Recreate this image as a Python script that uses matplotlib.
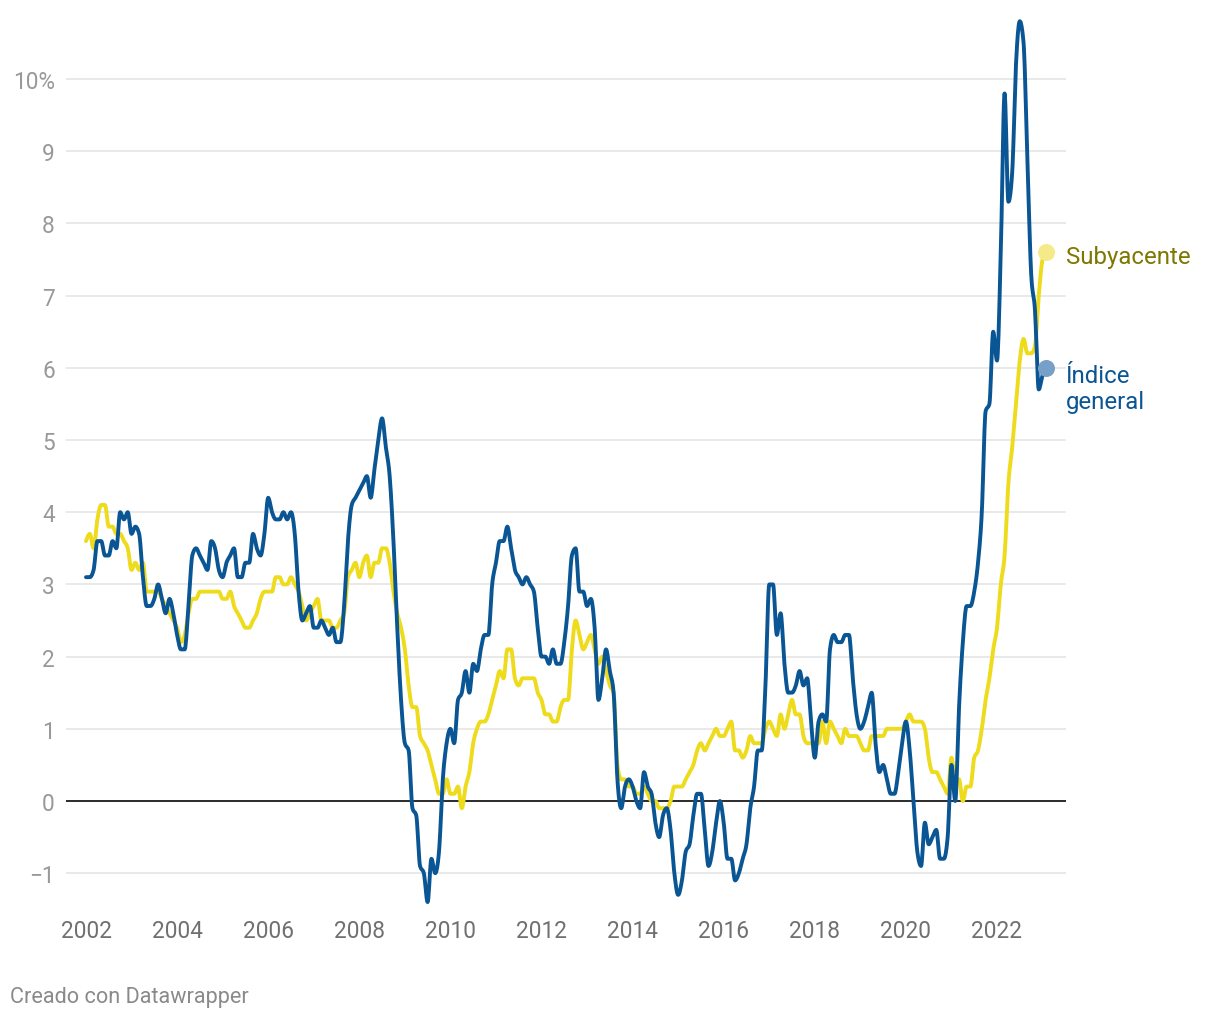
import numpy as np
import matplotlib
matplotlib.use("Agg")
import matplotlib.pyplot as plt

# ---------------- data (monthly, Jan 2002 - Feb 2023, % y/y) ----------------
start_year = 2002
general = [
    3.1, 3.1, 3.2, 3.6, 3.6, 3.4, 3.4, 3.6, 3.5, 4.0, 3.9, 4.0,      # 2002
    3.7, 3.8, 3.7, 3.1, 2.7, 2.7, 2.8, 3.0, 2.8, 2.6, 2.8, 2.6,      # 2003
    2.3, 2.1, 2.1, 2.7, 3.4, 3.5, 3.4, 3.3, 3.2, 3.6, 3.5, 3.2,      # 2004
    3.1, 3.3, 3.4, 3.5, 3.1, 3.1, 3.3, 3.3, 3.7, 3.5, 3.4, 3.7,      # 2005
    4.2, 4.0, 3.9, 3.9, 4.0, 3.9, 4.0, 3.7, 2.9, 2.5, 2.6, 2.7,      # 2006
    2.4, 2.4, 2.5, 2.4, 2.3, 2.4, 2.2, 2.2, 2.7, 3.6, 4.1, 4.2,      # 2007
    4.3, 4.4, 4.5, 4.2, 4.6, 5.0, 5.3, 4.9, 4.5, 3.6, 2.4, 1.4,      # 2008
    0.8, 0.7, -0.1, -0.2, -0.9, -1.0, -1.4, -0.8, -1.0, -0.7, 0.3, 0.8,  # 2009
    1.0, 0.8, 1.4, 1.5, 1.8, 1.5, 1.9, 1.8, 2.1, 2.3, 2.3, 3.0,      # 2010
    3.3, 3.6, 3.6, 3.8, 3.5, 3.2, 3.1, 3.0, 3.1, 3.0, 2.9, 2.4,      # 2011
    2.0, 2.0, 1.9, 2.1, 1.9, 1.9, 2.2, 2.7, 3.4, 3.5, 2.9, 2.9,      # 2012
    2.7, 2.8, 2.4, 1.4, 1.7, 2.1, 1.8, 1.5, 0.3, -0.1, 0.2, 0.3,     # 2013
    0.2, 0.0, -0.1, 0.4, 0.2, 0.1, -0.3, -0.5, -0.2, -0.1, -0.4, -1.0,  # 2014
    -1.3, -1.1, -0.7, -0.6, -0.2, 0.1, 0.1, -0.4, -0.9, -0.7, -0.3, 0.0,  # 2015
    -0.3, -0.8, -0.8, -1.1, -1.0, -0.8, -0.6, -0.1, 0.2, 0.7, 0.7, 1.6,  # 2016
    3.0, 3.0, 2.3, 2.6, 1.9, 1.5, 1.5, 1.6, 1.8, 1.6, 1.7, 1.1,      # 2017
    0.6, 1.1, 1.2, 1.1, 2.1, 2.3, 2.2, 2.2, 2.3, 2.3, 1.7, 1.2,      # 2018
    1.0, 1.1, 1.3, 1.5, 0.8, 0.4, 0.5, 0.3, 0.1, 0.1, 0.4, 0.8,      # 2019
    1.1, 0.7, 0.0, -0.7, -0.9, -0.3, -0.6, -0.5, -0.4, -0.8, -0.8, -0.5,  # 2020
    0.5, 0.0, 1.3, 2.2, 2.7, 2.7, 2.9, 3.3, 4.0, 5.4, 5.5, 6.5,      # 2021
    6.1, 7.6, 9.8, 8.3, 8.7, 10.2, 10.8, 10.5, 8.9, 7.3, 6.8, 5.7,   # 2022
    5.9, 6.0,                                                        # 2023
]
core = [
    3.6, 3.7, 3.5, 3.9, 4.1, 4.1, 3.8, 3.8, 3.7, 3.7, 3.6, 3.5,      # 2002
    3.2, 3.3, 3.2, 3.3, 2.9, 2.9, 2.9, 2.9, 2.8, 2.7, 2.6, 2.5,      # 2003
    2.4, 2.2, 2.3, 2.6, 2.8, 2.8, 2.9, 2.9, 2.9, 2.9, 2.9, 2.9,      # 2004
    2.8, 2.8, 2.9, 2.7, 2.6, 2.5, 2.4, 2.4, 2.5, 2.6, 2.8, 2.9,      # 2005
    2.9, 2.9, 3.1, 3.1, 3.0, 3.0, 3.1, 3.0, 2.9, 2.7, 2.5, 2.6,      # 2006
    2.7, 2.8, 2.5, 2.5, 2.5, 2.4, 2.4, 2.5, 2.6, 3.1, 3.2, 3.3,      # 2007
    3.1, 3.3, 3.4, 3.1, 3.3, 3.3, 3.5, 3.5, 3.3, 2.9, 2.6, 2.4,      # 2008
    2.1, 1.6, 1.3, 1.3, 0.9, 0.8, 0.7, 0.5, 0.3, 0.1, 0.1, 0.3,      # 2009
    0.1, 0.1, 0.2, -0.1, 0.2, 0.4, 0.8, 1.0, 1.1, 1.1, 1.2, 1.4,     # 2010
    1.6, 1.8, 1.7, 2.1, 2.1, 1.7, 1.6, 1.7, 1.7, 1.7, 1.7, 1.5,      # 2011
    1.4, 1.2, 1.2, 1.1, 1.1, 1.3, 1.4, 1.4, 2.1, 2.5, 2.3, 2.1,      # 2012
    2.2, 2.3, 2.1, 1.9, 2.0, 1.8, 1.6, 1.5, 0.5, 0.3, 0.3, 0.2,      # 2013
    0.2, 0.1, 0.1, 0.2, 0.1, 0.0, 0.0, -0.1, -0.1, -0.1, 0.0, 0.2,   # 2014
    0.2, 0.2, 0.3, 0.4, 0.5, 0.7, 0.8, 0.7, 0.8, 0.9, 1.0, 0.9,      # 2015
    0.9, 1.0, 1.1, 0.7, 0.7, 0.6, 0.7, 0.9, 0.8, 0.8, 0.8, 1.0,      # 2016
    1.1, 1.0, 0.9, 1.2, 1.0, 1.2, 1.4, 1.2, 1.2, 0.9, 0.8, 0.8,      # 2017
    0.8, 0.8, 1.1, 0.8, 1.1, 1.0, 0.9, 0.8, 1.0, 0.9, 0.9, 0.9,      # 2018
    0.8, 0.7, 0.7, 0.9, 0.9, 0.9, 0.9, 1.0, 1.0, 1.0, 1.0, 1.0,      # 2019
    1.1, 1.2, 1.1, 1.1, 1.1, 1.0, 0.6, 0.4, 0.4, 0.3, 0.2, 0.1,      # 2020
    0.6, 0.3, 0.3, 0.0, 0.2, 0.2, 0.6, 0.7, 1.0, 1.4, 1.7, 2.1,      # 2021
    2.4, 3.0, 3.4, 4.4, 4.9, 5.5, 6.1, 6.4, 6.2, 6.2, 6.3, 7.0,      # 2022
    7.5, 7.6,                                                        # 2023
]
tick_years = [2002, 2004, 2006, 2008, 2010, 2012, 2014, 2016, 2018, 2020, 2022]
y_ticks = [-1, 0, 1, 2, 3, 4, 5, 6, 7, 8, 9, 10]
y_labels = ["\u22121", "0", "1", "2", "3", "4", "5", "6", "7", "8", "9", "10%"]
label_general = "Índice\ngeneral"
label_core = "Subyacente"
footer = "Creado con Datawrapper"

# ---------------- helpers ----------------
def monotone_curve(x, y, n=10):
    """Monotone cubic (Steffen / d3.curveMonotoneX) sampling."""
    x = np.asarray(x, float)
    y = np.asarray(y, float)
    h = np.diff(x)
    s = np.diff(y) / h
    t = np.zeros_like(y)
    for i in range(1, len(y) - 1):
        s0, s1, h0, h1 = s[i - 1], s[i], h[i - 1], h[i]
        p = (s0 * h1 + s1 * h0) / (h0 + h1)
        t[i] = (np.sign(s0) + np.sign(s1)) * min(abs(s0), abs(s1), 0.5 * abs(p))
    t[0] = (3 * s[0] - t[1]) / 2
    t[-1] = (3 * s[-1] - t[-2]) / 2
    xs, ys = [], []
    u = np.linspace(0, 1, n, endpoint=False)
    for i in range(len(y) - 1):
        hh = h[i]
        h00 = 2 * u**3 - 3 * u**2 + 1
        h10 = u**3 - 2 * u**2 + u
        h01 = -2 * u**3 + 3 * u**2
        h11 = u**3 - u**2
        xs.append(x[i] + u * hh)
        ys.append(h00 * y[i] + h10 * hh * t[i] + h01 * y[i + 1] + h11 * hh * t[i + 1])
    xs.append([x[-1]])
    ys.append([y[-1]])
    return np.concatenate(xs), np.concatenate(ys)

# ---------------- figure ----------------
plt.rcParams["font.family"] = ["Roboto", "DejaVu Sans"]
W, H = 1220, 1020
fig = plt.figure(figsize=(W / 100, H / 100), dpi=100)

px_month = 45.55 / 12.0
x0_px = 86.0
left_px, right_px = 66.0, 1066.0
zero_px, ten_px = 802.0, 80.0
px_unit = (zero_px - ten_px) / 10.0
ymin, ymax = -1.5, 11.0
bottom_px = zero_px - ymin * px_unit
top_px = zero_px - ymax * px_unit

ax = fig.add_axes([left_px / W, 1 - bottom_px / H,
                   (right_px - left_px) / W, (bottom_px - top_px) / H])
ax.set_xlim((left_px - x0_px) / px_month, (right_px - x0_px) / px_month)
ax.set_ylim(ymin, ymax)

for sp in ax.spines.values():
    sp.set_visible(False)

# grid lines
for v in y_ticks:
    if v == 0:
        ax.axhline(0, color="#1a1a1a", lw=1.3, zorder=2)
    else:
        ax.axhline(v, color="#e3e3e3", lw=1.1, zorder=1)

months = np.arange(len(general))
blue = "#0a5594"
yellow = "#eedb1c"

xc, yc = monotone_curve(months, core)
xg, yg = monotone_curve(months, general)
ax.plot(xc, yc, color=yellow, lw=2.8, solid_capstyle="round", zorder=3)
ax.plot(xg, yg, color=blue, lw=2.8, solid_capstyle="round", zorder=4)

# end dots
ax.scatter([months[-1]], [core[-1]], s=150, color="#f4ea8a", zorder=5, lw=0)
ax.scatter([months[-1]], [general[-1]], s=150, color="#76a0c8", zorder=5, lw=0)

# end labels
ax.annotate(label_core, xy=(months[-1], core[-1]), xytext=(14.0, -3.2),
            textcoords="offset points", va="center", ha="left",
            fontsize=17.3, color="#7f7700", annotation_clip=False)
ax.annotate(label_general, xy=(months[-1], general[-1]), xytext=(14.0, -14.6),
            textcoords="offset points", va="center", ha="left",
            fontsize=17.3, color="#0a5594", linespacing=1.17,
            annotation_clip=False)

# ticks
ax.set_yticks(y_ticks)
ax.set_yticklabels(y_labels)
ax.tick_params(axis="y", length=0, pad=8, labelsize=16.3, labelcolor="#999999")
ax.set_xticks([(yr - start_year) * 12 for yr in tick_years])
ax.set_xticklabels([str(yr) for yr in tick_years])
ax.tick_params(axis="x", length=0, pad=7.2, labelsize=16.3, labelcolor="#707070")

fig.text(10 / W, 1 - 998 / H, footer, ha="left", va="center",
         fontsize=15.6, color="#8a8a8a")

fig.savefig("out.png", dpi=100, facecolor="white")
